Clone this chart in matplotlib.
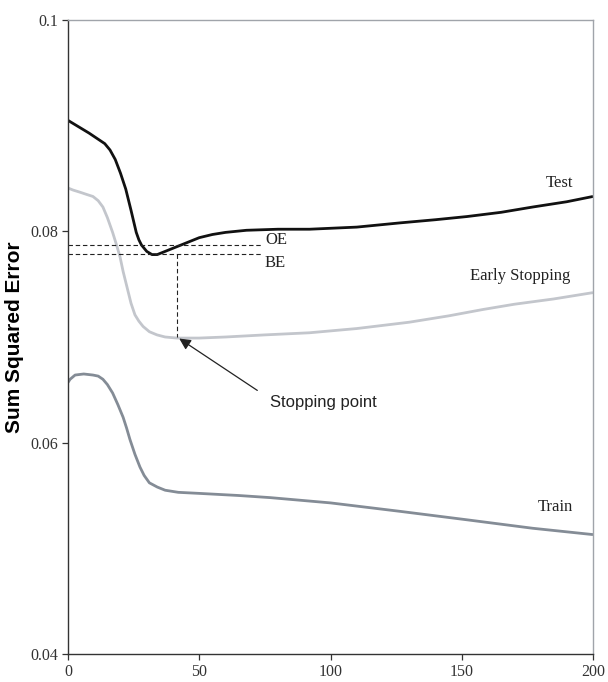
import matplotlib.pyplot as plt

# Values
test_x = [0, 4, 8, 11, 14, 16, 18, 20, 22, 24, 26, 27, 28, 30, 32, 34, 36, 39, 42, 46, 50, 55, 60, 68, 80, 92, 110, 126.5, 140, 152, 165, 177, 190, 200]
test_y = [0.0905, 0.0899, 0.0893, 0.0888, 0.0883, 0.0877, 0.0868, 0.0855, 0.0840, 0.0820, 0.0799, 0.0792, 0.0787, 0.0781, 0.0778, 0.0778, 0.0780, 0.0783, 0.0786, 0.0790, 0.0794, 0.0797, 0.0799, 0.0801, 0.0802, 0.0802, 0.0804, 0.0808, 0.0811, 0.0814, 0.0818, 0.0823, 0.0828, 0.0833]

es_x = [0, 2, 4.6, 7, 9.5, 11.5, 13.3, 15, 17, 18.5, 19.8, 21, 22.5, 24, 25.5, 27, 28.6, 31, 33.9, 37, 41.5, 50, 60, 75, 92, 110, 130, 145, 158, 170, 185, 200]
es_y = [0.0841, 0.0839, 0.0837, 0.0835, 0.0833, 0.0829, 0.0823, 0.0813, 0.0799, 0.0787, 0.0776, 0.0762, 0.0747, 0.0732, 0.0721, 0.0715, 0.0710, 0.0705, 0.0702, 0.0700, 0.0699, 0.0699, 0.0700, 0.0702, 0.0704, 0.0708, 0.0714, 0.0720, 0.0726, 0.0731, 0.0736, 0.0742]

train_x = [0, 0.8, 2.7, 6, 9.5, 11.5, 13.3, 15, 17, 19, 21, 22.3, 23.6, 25.5, 27.4, 29, 31, 34, 37, 42, 50, 65, 77, 100, 126.5, 152, 177, 200]
train_y = [0.0657, 0.0660, 0.0664, 0.0665, 0.0664, 0.0663, 0.0660, 0.0655, 0.0647, 0.0636, 0.0624, 0.0614, 0.0603, 0.0589, 0.0577, 0.0569, 0.0562, 0.0558, 0.0555, 0.0553, 0.0552, 0.0550, 0.0548, 0.0543, 0.0535, 0.0527, 0.0519, 0.0513]

oe_level = 0.0787
be_level = 0.0779
stop_x = 41.5
stop_y = 0.0700

fig = plt.figure(figsize=(6.08, 6.82), dpi=100)
ax = fig.add_axes([68 / 608, 1 - 654 / 682, 525 / 608, 634 / 682])

ax.plot(es_x, es_y, color='#c3c6cc', lw=2.0, solid_capstyle='butt', solid_joinstyle='round')
ax.plot(train_x, train_y, color='#848c96', lw=2.0, solid_capstyle='butt', solid_joinstyle='round')
ax.plot(test_x, test_y, color='#111111', lw=2.0, solid_capstyle='butt', solid_joinstyle='round')

# OE / BE dashed reference lines and the stopping point drop line
dash = (0, (4, 2.5))
ax.plot([0, 74], [oe_level, oe_level], color='#222222', lw=0.8, ls=dash)
ax.plot([0, 74], [be_level, be_level], color='#222222', lw=0.8, ls=dash)
ax.plot([stop_x, stop_x], [be_level, stop_y], color='#222222', lw=0.8, ls=dash)

serif = 'Liberation Serif'
ax.text(75, 0.0792, 'OE', fontsize=12, family=serif, va='center', ha='left', color='#222222')
ax.text(75, 0.0770, 'BE', fontsize=12, family=serif, va='center', ha='left', color='#222222')

ax.annotate('', xy=(stop_x, stop_y), xytext=(73, 0.0648),
            arrowprops=dict(arrowstyle='-|>', color='#222222', lw=0.9, mutation_scale=17))
ax.text(77, 0.0638, 'Stopping point', fontsize=12, family='Liberation Sans', va='center', ha='left', color='#222222')

ax.text(192.5, 0.0846, 'Test', fontsize=12, family=serif, ha='right', va='center', color='#222222')
ax.text(191.5, 0.0758, 'Early Stopping', fontsize=12, family=serif, ha='right', va='center', color='#222222')
ax.text(192.5, 0.0539, 'Train', fontsize=12, family=serif, ha='right', va='center', color='#222222')

ax.set_xlim(0, 200)
ax.set_ylim(0.04, 0.1)
ax.set_xticks([0, 50, 100, 150, 200])
ax.set_yticks([0.04, 0.06, 0.08, 0.1])
ax.set_yticklabels(['0.04', '0.06', '0.08', '0.1'])
ax.tick_params(direction='out', length=4, width=0.9, color='#333333', labelsize=11.5, pad=3)
for lab in ax.get_xticklabels() + ax.get_yticklabels():
    lab.set_family(serif)
    lab.set_color('#333333')

ax.spines['left'].set_color('#333333')
ax.spines['bottom'].set_color('#333333')
ax.spines['top'].set_color('#a0a4aa')
ax.spines['right'].set_color('#a0a4aa')
for s in ax.spines.values():
    s.set_linewidth(1.0)

ax.set_ylabel('Sum Squared Error', fontsize=15, fontweight='bold', family='Liberation Sans')
ax.yaxis.set_label_coords(-0.083, 0.5)

plt.savefig('out.png', dpi=100)
